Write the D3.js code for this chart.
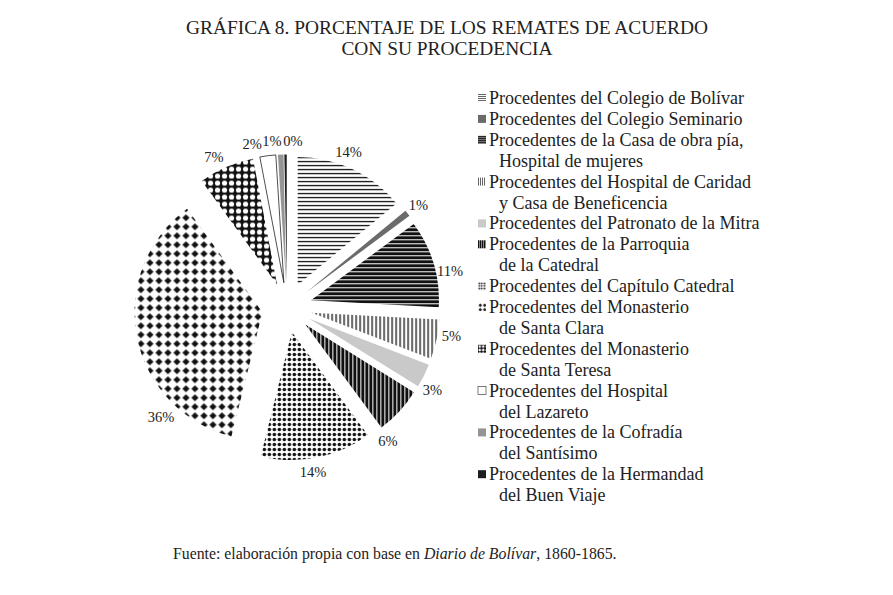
<!DOCTYPE html>
<html><head><meta charset="utf-8">
<script src="https://cdn.jsdelivr.net/npm/d3@7/dist/d3.min.js"></script>
<style>
body{margin:0;background:#fff}
text{font-family:"Liberation Serif","DejaVu Serif",serif;fill:#222}
</style>
</head><body>
<svg id="c" width="893" height="595"></svg>
<script>
// ---- data ----
const categories = [
  "Procedentes del Colegio de Bolívar",
  "Procedentes del Colegio Seminario",
  "Procedentes de la Casa de obra pía,\nHospital de mujeres",
  "Procedentes del Hospital de Caridad\ny Casa de Beneficencia",
  "Procedentes del Patronato de la Mitra",
  "Procedentes de la Parroquia\nde la Catedral",
  "Procedentes del Capítulo Catedral",
  "Procedentes del Monasterio\nde Santa Clara",
  "Procedentes del Monasterio\nde Santa Teresa",
  "Procedentes del Hospital\ndel Lazareto",
  "Procedentes de la Cofradía\ndel Santísimo",
  "Procedentes de la Hermandad\ndel Buen Viaje"
];
const values = [14, 0.8, 11, 5, 3, 6, 14, 36, 7, 2, 0.7, 0.3];
const titleLines = ["GRÁFICA 8. PORCENTAJE DE LOS REMATES DE ACUERDO", "CON SU PROCEDENCIA"];

// ---- layout / style ----
const cx = 287, cy = 307.5, R = 128, OFF = 25, LR = 167;
const fillKeys = ["Hl", "#6b6b6b", "Hk", "Vl", "#c9c9c9", "Vk", "Dot", "Dia", "Cir", "#ffffff", "#959595", "#1e1e1e"];
// manual label placement angles (degrees, clockwise from 12 o'clock)
const labelAngleDeg = {0: 21.6, 2: 77.5, 3: 100, 4: 119.5, 5: 142.8, 6: 171, 7: 229, 8: 334, 9: 348, 10: 354.8, 11: 2};

const svg = d3.select("#c");
const defs = svg.append("defs");
function makePatterns(suffix, s) {
  function pat(id, w, h, build) {
    const p = defs.append("pattern").attr("id", "p" + id + suffix).attr("patternUnits", "userSpaceOnUse")
      .attr("width", w * s).attr("height", h * s);
    const gg = p.append("g").attr("transform", `scale(${s})`);
    build(gg);
  }
  pat("Hl", 4, 4, p => { p.append("rect").attr("width", 4).attr("height", 4).attr("fill", "#fff");
    p.append("rect").attr("width", 4).attr("height", 1.3).attr("fill", "#111"); });
  pat("Hk", 4, 4, p => { p.append("rect").attr("width", 4).attr("height", 4).attr("fill", "#111");
    p.append("rect").attr("y", 3).attr("width", 4).attr("height", 1).attr("fill", "#fff"); });
  pat("Vl", 4, 4, p => { p.append("rect").attr("width", 4).attr("height", 4).attr("fill", "#fff");
    p.append("rect").attr("width", 1.3).attr("height", 4).attr("fill", "#111"); });
  pat("Vk", 4, 4, p => { p.append("rect").attr("width", 4).attr("height", 4).attr("fill", "#111");
    p.append("rect").attr("x", 3).attr("width", 1).attr("height", 4).attr("fill", "#fff"); });
  pat("Dot", 5, 5, p => { p.append("rect").attr("width", 5).attr("height", 5).attr("fill", "#fff");
    p.append("circle").attr("cx", 2.5).attr("cy", 2.5).attr("r", 1.8).attr("fill", "#111"); });
  pat("Dia", 9, 9, p => { p.append("rect").attr("width", 9).attr("height", 9).attr("fill", "#fff");
    p.append("path").attr("d", "M4.5,0.9 L8.1,4.5 L4.5,8.1 L0.9,4.5 Z").attr("fill", "#111"); });
  pat("Cir", 7, 7, p => { p.append("rect").attr("width", 7).attr("height", 7).attr("fill", "#111");
    p.append("circle").attr("cx", 3.5).attr("cy", 3.5).attr("r", 2.6).attr("fill", "#fff"); });
}
makePatterns("", 1);
makePatterns("L", 0.5);
const fillOf = (i, suffix) => fillKeys[i].startsWith("#") ? fillKeys[i] : `url(#p${fillKeys[i]}${suffix})`;

// title
svg.append("g").selectAll("text").data(titleLines).join("text")
  .attr("x", 447).attr("y", (d, i) => 27 + i * 21)
  .attr("text-anchor", "middle").attr("dominant-baseline", "central")
  .style("font-size", "19.4px").text(d => d);

// pie
const pie = d3.pie().sort(null).value(d => d);
const arcs = pie(values);
const arc = d3.arc().innerRadius(0).outerRadius(R);
const g = svg.append("g").attr("transform", `translate(${cx},${cy})`);
g.selectAll("path").data(arcs).join("path")
  .attr("transform", d => {
    const m = (d.startAngle + d.endAngle) / 2;
    return `translate(${OFF * Math.sin(m)},${-OFF * Math.cos(m)})`;
  })
  .attr("d", arc)
  .attr("fill", (d, i) => fillOf(i, ""))
  .attr("stroke", (d, i) => i === 9 ? "#222" : "none")
  .attr("stroke-width", 0.8);

const lblAngle = (d, i) => labelAngleDeg[i] !== undefined ? labelAngleDeg[i] * Math.PI / 180 : (d.startAngle + d.endAngle) / 2;
g.selectAll("text.lbl").data(arcs).join("text").attr("class", "lbl")
  .attr("x", (d, i) => LR * Math.sin(lblAngle(d, i)))
  .attr("y", (d, i) => -LR * Math.cos(lblAngle(d, i)))
  .attr("text-anchor", "middle").attr("dominant-baseline", "central")
  .style("font-size", "14.5px")
  .text(d => Math.round(d.data) + "%");

// legend
const lg = svg.append("g").attr("transform", "translate(478,98)");
let line = 0;
categories.forEach((c, i) => {
  const parts = c.split("\n");
  const y0 = line * 20.9;
  lg.append("g").attr("transform", `translate(0,${y0 - 4})`)
    .append("rect").attr("width", 8).attr("height", 8)
    .attr("fill", fillOf(i, "L")).attr("stroke", i === 9 ? "#444" : "none").attr("stroke-width", 0.7);
  parts.forEach((p, j) => {
    lg.append("text").attr("x", j === 0 ? 11 : 21).attr("y", (line + j) * 20.9)
      .attr("dominant-baseline", "central").style("font-size", "18px").text(p);
  });
  line += parts.length;
});

// source
const src = svg.append("text").attr("x", 173).attr("y", 553)
  .attr("dominant-baseline", "central").style("font-size", "15.8px");
src.append("tspan").text("Fuente: elaboración propia con base en ");
src.append("tspan").style("font-style", "italic").text("Diario de Bolívar");
src.append("tspan").text(", 1860-1865.");
</script>
</body></html>
